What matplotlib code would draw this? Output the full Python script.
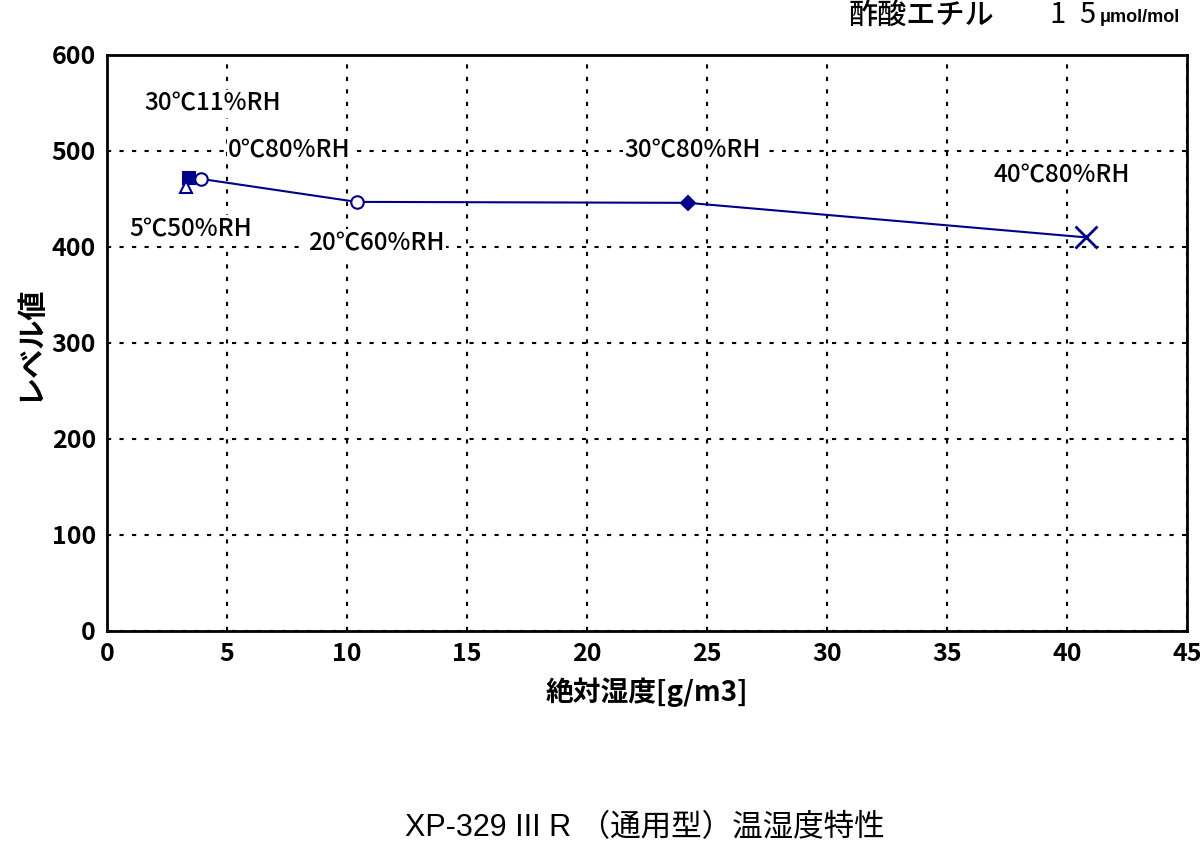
import matplotlib.pyplot as plt

plt.rcParams['font.family'] = ['Noto Sans CJK JP', 'DejaVu Sans']

# readings
conditions = ['30℃11%RH', '5℃50%RH', '0℃80%RH', '20℃60%RH', '30℃80%RH', '40℃80%RH']
abs_humidity = [3.4, 3.3, 3.9, 10.4, 24.2, 40.8]
level = [472, 463, 471, 447, 446, 410]
markers = ['s', '^', 'o', 'o', 'D', 'x']
filled = [True, False, False, False, True, False]

# label anchor points (data coords)
label_x = [4.4, 3.5, 7.6, 11.2, 24.4, 39.8]
label_y = [549, 418, 501, 404, 501, 475]

xticks = list(range(0, 50, 5))
yticks = list(range(0, 700, 100))

blue = '#00008b'

fig = plt.figure(figsize=(12, 8.52), dpi=100)
ax = fig.add_axes([107 / 1200, 221 / 852, 1080 / 1200, 576 / 852])

# line through the points from the 0℃ one onwards
ax.plot(abs_humidity[2:], level[2:], color=blue, lw=1.5, zorder=3)

for x, y, m, f in zip(abs_humidity, level, markers, filled):
    size = 9 if m != 'x' else 16
    ax.plot(x, y, marker=m, ms=size if m != 'D' else 7,
            mfc=blue if f else 'white', mec=blue, mew=1.5 if m != 'x' else 2,
            ls='none', zorder=4)

for txt, x, y in zip(conditions, label_x, label_y):
    ax.text(x, y, txt, ha='center', va='center', fontsize=17.5,
            fontweight='medium',
            bbox=dict(facecolor='white', edgecolor='none', pad=1), zorder=2)

ax.set_xlim(0, 45)
ax.set_ylim(0, 600)
ax.set_xticks(xticks)
ax.set_yticks(yticks)
ax.tick_params(labelsize=18, length=0, pad=8)
for lab in ax.get_xticklabels() + ax.get_yticklabels():
    lab.set_fontweight('bold')
ax.grid(True, color='black', ls=(0, (2, 4)), lw=1.5, zorder=1)
for sp in ax.spines.values():
    sp.set_linewidth(2)

ax.set_xlabel('絶対湿度[g/m3]', fontsize=20, fontweight='bold', labelpad=8)
ax.set_ylabel('レベル値', fontsize=21, fontweight='bold', labelpad=6)

# header: compound and concentration
fig.text(0.707, 0.982, '酢酸エチル', fontsize=21, ha='left', va='center',
         fontweight='medium')
fig.text(1057 / 1200, 0.982, '1', fontsize=21, ha='center', va='center',
         family=['Noto Sans CJK JP', 'DejaVu Sans'])
fig.text(1087 / 1200, 0.982, '5', fontsize=21, ha='center', va='center',
         family=['Noto Sans CJK JP', 'DejaVu Sans'])
fig.text(1100 / 1200, 0.980, 'μmol/mol', fontsize=13, ha='left', va='center',
         fontweight='bold', family=['Liberation Sans', 'DejaVu Sans'])

fig.text(0.537, 0.028, 'XP-329 III R （通用型）温湿度特性', fontsize=22,
         ha='center', va='center', family=['Liberation Sans', 'Noto Sans CJK JP'])

fig.savefig('out.png', dpi=100)
